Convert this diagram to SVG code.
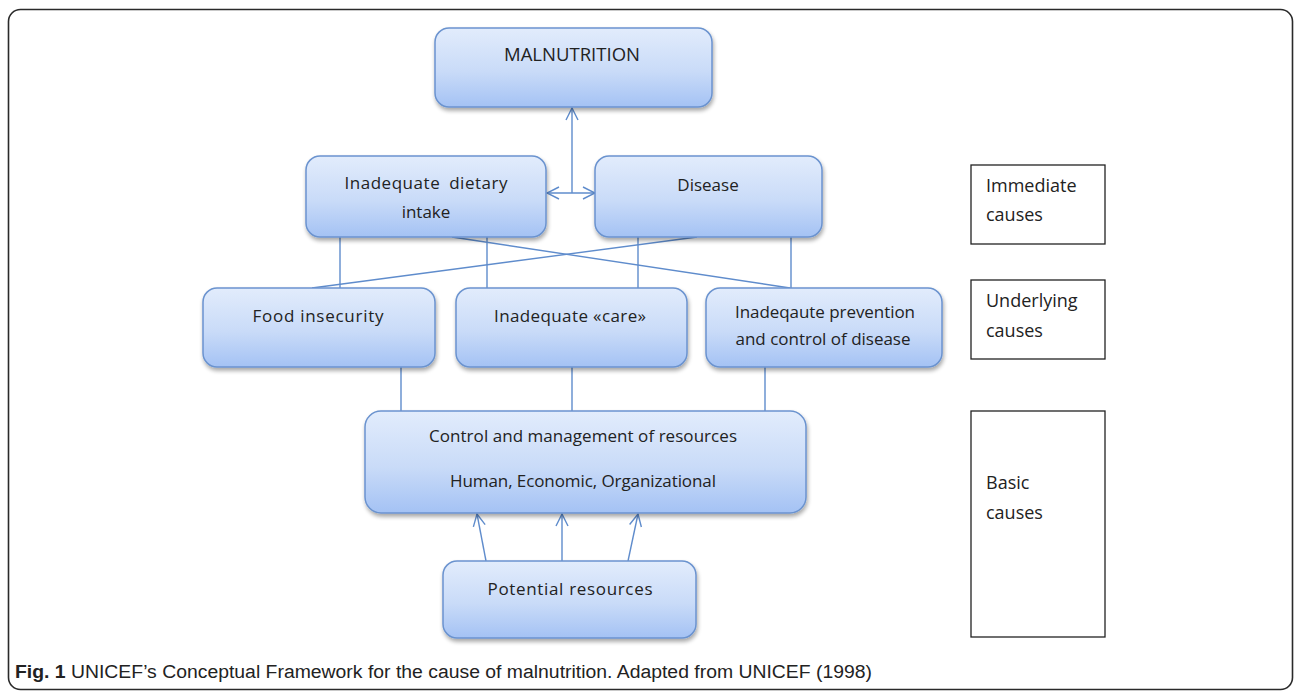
<svg xmlns="http://www.w3.org/2000/svg" width="1295" height="697" viewBox="0 0 1295 697">
<defs>
<linearGradient id="g" x1="0" y1="0" x2="0" y2="1">
<stop offset="0" stop-color="#e2ecfc"/>
<stop offset="0.55" stop-color="#c9dbf8"/>
<stop offset="1" stop-color="#a4c2f4"/>
</linearGradient>
<filter id="sh" x="-10%" y="-10%" width="125%" height="135%">
<feGaussianBlur in="SourceAlpha" stdDeviation="2"/>
<feOffset dx="1" dy="3" result="b"/>
<feComponentTransfer><feFuncA type="linear" slope="0.35"/></feComponentTransfer>
<feMerge><feMergeNode/><feMergeNode in="SourceGraphic"/></feMerge>
</filter>
<marker id="ah" viewBox="0 0 14 14" refX="13" refY="7" markerWidth="14" markerHeight="14" markerUnits="userSpaceOnUse" orient="auto-start-reverse">
<path d="M1,1 L13,7 L1,13" fill="none" stroke="#5f8ccc" stroke-width="1.4"/>
</marker>
</defs>
<style>
.n{fill:url(#g);stroke:#6b93cf;stroke-width:1.5;filter:url(#sh)}
.t{font-family:"Open Sans","Liberation Sans",sans-serif;font-size:17px;fill:#222;text-anchor:middle}
.l{font-family:"Open Sans","Liberation Sans",sans-serif;font-size:18px;fill:#222}
.c{stroke:#5f8ccc;stroke-width:1.4;fill:none}
.b{fill:#fff;stroke:#222;stroke-width:1.3}
</style>
<rect x="8.5" y="9.5" width="1284" height="680" rx="12" fill="#fff" stroke="#2a2a2a" stroke-width="1.6"/>
<g id="connectors">
<line class="c" x1="572" y1="193" x2="572" y2="108" marker-end="url(#ah)"/>
<line class="c" x1="547" y1="193" x2="595" y2="193" marker-start="url(#ah)" marker-end="url(#ah)"/>
<line class="c" x1="340" y1="237" x2="340" y2="288"/>
<line class="c" x1="487" y1="237" x2="487" y2="288"/>
<line class="c" x1="638" y1="237" x2="638" y2="288"/>
<line class="c" x1="791" y1="237" x2="791" y2="288"/>
<line class="c" x1="452" y1="237" x2="790" y2="288"/>
<line class="c" x1="697" y1="237" x2="312" y2="288"/>
<line class="c" x1="401" y1="367" x2="401" y2="411"/>
<line class="c" x1="572" y1="367" x2="572" y2="411"/>
<line class="c" x1="765" y1="367" x2="765" y2="411"/>
<line class="c" x1="486" y1="561" x2="477" y2="514" marker-end="url(#ah)"/>
<line class="c" x1="562" y1="561" x2="562" y2="514" marker-end="url(#ah)"/>
<line class="c" x1="628" y1="561" x2="638" y2="514" marker-end="url(#ah)"/>
</g>
<g id="malnutrition">
<rect class="n" x="435" y="28" width="277" height="79" rx="14"/>
<text class="t" x="572" y="61" textLength="136" lengthAdjust="spacingAndGlyphs" style="font-size:18.5px">MALNUTRITION</text>
</g>
<g id="dietary">
<rect class="n" x="306" y="156" width="240" height="81" rx="14"/>
<text class="t" x="426" y="189" textLength="163" word-spacing="4">Inadequate dietary</text>
<text class="t" x="426" y="218">intake</text>
</g>
<g id="disease">
<rect class="n" x="595" y="156" width="227" height="81" rx="14"/>
<text class="t" x="708" y="191">Disease</text>
</g>
<g id="food">
<rect class="n" x="203" y="288" width="232" height="79" rx="14"/>
<text class="t" x="318" y="322" textLength="131">Food insecurity</text>
</g>
<g id="care">
<rect class="n" x="456" y="288" width="231" height="79" rx="14"/>
<text class="t" x="570" y="322" textLength="152">Inadequate «care»</text>
</g>
<g id="prevention">
<rect class="n" x="706" y="288" width="236" height="79" rx="14"/>
<text class="t" x="825" y="318" textLength="180">Inadeqaute prevention</text>
<text class="t" x="823" y="345" textLength="175">and control of disease</text>
</g>
<g id="control">
<rect class="n" x="365" y="411" width="441" height="102" rx="16"/>
<text class="t" x="583" y="442" textLength="308">Control and management of resources</text>
<text class="t" x="583" y="487" textLength="266">Human, Economic, Organizational</text>
</g>
<g id="potential">
<rect class="n" x="443" y="561" width="253" height="77" rx="14"/>
<text class="t" x="570" y="595" textLength="165">Potential resources</text>
</g>
<g id="immediate">
<rect class="b" x="971" y="165" width="134" height="79"/>
<text class="l" x="986" y="192">Immediate</text>
<text class="l" x="986" y="221">causes</text>
</g>
<g id="underlying">
<rect class="b" x="971" y="280" width="134" height="79"/>
<text class="l" x="986" y="307">Underlying</text>
<text class="l" x="986" y="337">causes</text>
</g>
<g id="basic">
<rect class="b" x="971" y="411" width="134" height="226"/>
<text class="l" x="986" y="489">Basic</text>
<text class="l" x="986" y="519">causes</text>
</g>
<g id="caption">
<text x="15" y="678" font-family="'Liberation Sans Narrow','Liberation Sans',sans-serif" font-size="18" fill="#222" textLength="857" lengthAdjust="spacingAndGlyphs"><tspan font-weight="bold">Fig. 1</tspan> UNICEF’s Conceptual Framework for the cause of malnutrition. Adapted from UNICEF (1998)</text>
</g>
</svg>
